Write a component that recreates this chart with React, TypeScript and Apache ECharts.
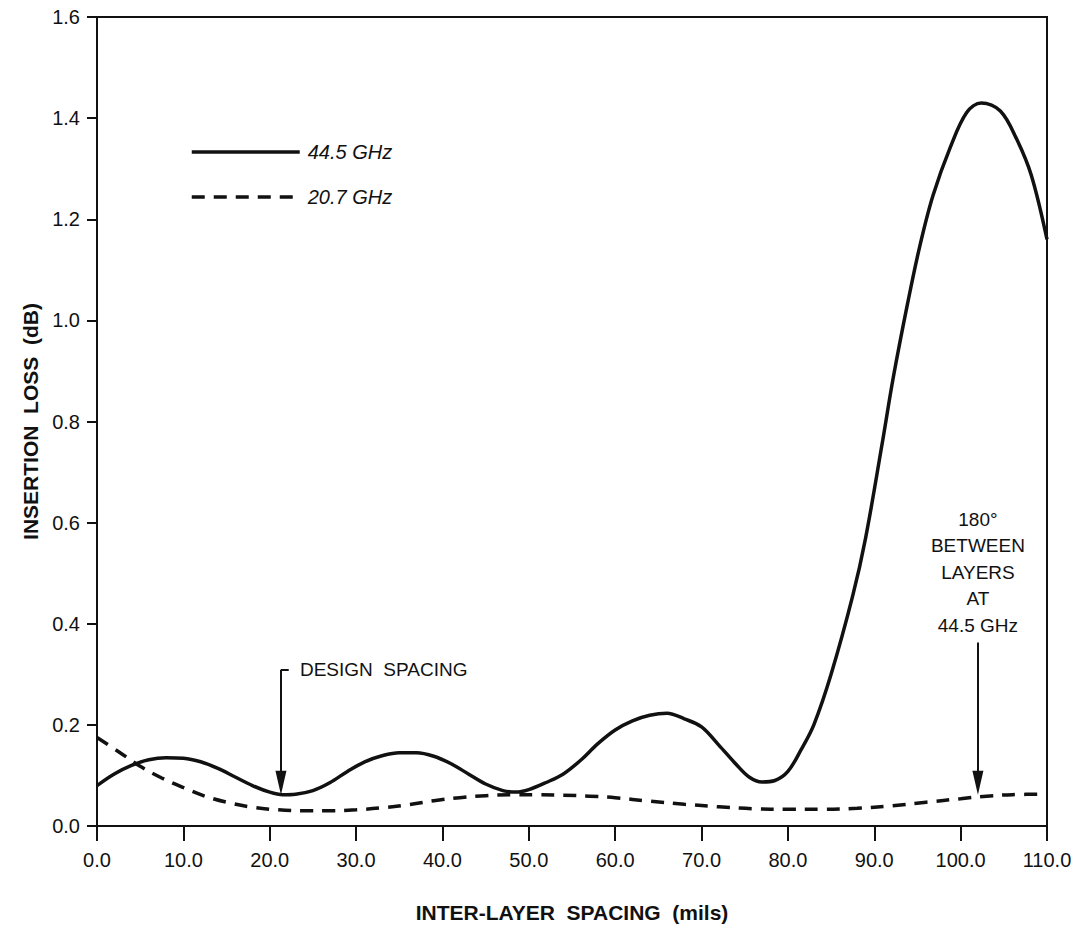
import React, { useEffect, useRef } from "react";
import * as echarts from "echarts";

// ---- data ----
const spacing44: number[] = [0, 2, 4, 6, 8, 10, 12, 14, 16, 18, 20, 21.5, 23, 25, 27, 29, 31, 33, 35, 37, 39, 41, 43, 45, 47, 48.5, 50, 52, 54, 56, 58, 60, 62, 64, 66, 68, 70, 72, 74, 75.5, 77, 78.5, 80, 81.5, 83, 85, 87.5, 89, 90.9, 92.2, 93.9, 95.3, 96.8, 98.8, 100.7, 102.4, 104.6, 106.5, 108.2, 110];
const loss44: number[] = [0.08, 0.103, 0.12, 0.131, 0.135, 0.134, 0.127, 0.114, 0.097, 0.08, 0.067, 0.062, 0.063, 0.07, 0.086, 0.108, 0.127, 0.139, 0.145, 0.145, 0.138, 0.123, 0.103, 0.083, 0.07, 0.067, 0.072, 0.086, 0.103, 0.13, 0.163, 0.19, 0.208, 0.219, 0.223, 0.212, 0.196, 0.16, 0.122, 0.097, 0.087, 0.09, 0.108, 0.15, 0.2, 0.3, 0.455, 0.57, 0.755, 0.887, 1.037, 1.149, 1.247, 1.342, 1.411, 1.43, 1.414, 1.358, 1.286, 1.16];

const spacing20: number[] = [0, 2.5, 5, 7.5, 10, 12.5, 15, 18, 21, 24, 27, 30, 33, 36, 39, 42, 45, 48, 51, 54, 57, 60, 64, 68, 72, 76, 80, 84, 88, 92, 96, 100, 103, 106, 110];
const loss20: number[] = [0.175, 0.147, 0.118, 0.095, 0.076, 0.059, 0.047, 0.037, 0.032, 0.03, 0.03, 0.032, 0.036, 0.042, 0.05, 0.056, 0.06, 0.062, 0.062, 0.061, 0.059, 0.056, 0.049, 0.043, 0.038, 0.034, 0.033, 0.033, 0.035, 0.04, 0.047, 0.054, 0.059, 0.062, 0.063];

const seriesNames: string[] = ["44.5 GHz", "20.7 GHz"];
const xTitle = "INTER-LAYER  SPACING  (mils)";
const yTitle = "INSERTION  LOSS  (dB)";

// annotations (data coordinates)
const designSpacingX = 21.3;
const designArrowTop = 0.309;
const designArrowTip = 0.062;
const designText = "DESIGN  SPACING";
const designTextAt: [number, number] = [23.5, 0.31];

const phaseX = 102.0;
const phaseArrowTop = 0.363;
const phaseArrowTip = 0.062;
const phaseText = "180°\nBETWEEN\nLAYERS\nAT\n44.5 GHz";
const phaseTextAt: [number, number] = [102.0, 0.502];

const FONT = "'Liberation Sans', Arial, Helvetica, sans-serif";
const BLACK = "#111";
const DASH = [13, 9];

export default function App() {
  const ref = useRef<HTMLDivElement>(null);

  useEffect(() => {
    if (!ref.current) return;
    const chart = echarts.init(ref.current, null, { renderer: "svg" });
    const yPerPx = 1.6 / (928 - 97 - 17);
    const headOffset = 12 * yPerPx;

    const option: any = {
      animation: false,
      backgroundColor: "#fff",
      grid: {
        left: 97,
        right: 31,
        top: 17,
        bottom: 97,
        show: true,
        borderColor: BLACK,
        borderWidth: 2,
        backgroundColor: "transparent",
      },
      legend: {
        data: [
          { name: seriesNames[0], lineStyle: { width: 3.5, type: "solid", color: BLACK } },
          { name: seriesNames[1], lineStyle: { width: 3.5, type: DASH, color: BLACK } },
        ],
        orient: "vertical",
        left: 185,
        top: 137,
        itemWidth: 108,
        itemHeight: 14,
        itemGap: 25,
        itemStyle: { opacity: 0 },
        textStyle: {
          fontFamily: FONT,
          fontStyle: "italic",
          fontSize: 20,
          color: BLACK,
          padding: [0, 0, 0, 3],
        },
      },
      xAxis: {
        type: "value",
        min: 0,
        max: 110,
        interval: 10,
        name: xTitle,
        nameLocation: "middle",
        nameGap: 76,
        nameTextStyle: { fontFamily: FONT, fontWeight: "bold", fontSize: 21, color: BLACK },
        axisLine: { show: true, lineStyle: { color: BLACK, width: 2 } },
        axisTick: { show: true, length: 15, lineStyle: { color: BLACK, width: 2 } },
        axisLabel: {
          margin: 24,
          fontFamily: FONT,
          fontSize: 20,
          color: BLACK,
          formatter: (v: number) => v.toFixed(1),
        },
        splitLine: { show: false },
      },
      yAxis: {
        type: "value",
        min: 0,
        max: 1.6,
        interval: 0.2,
        name: yTitle,
        nameLocation: "middle",
        nameRotate: 90,
        nameGap: 54,
        nameTextStyle: { fontFamily: FONT, fontWeight: "bold", fontSize: 21, color: BLACK },
        axisLine: { show: true, lineStyle: { color: BLACK, width: 2 } },
        axisTick: { show: true, length: 10, lineStyle: { color: BLACK, width: 2 } },
        axisLabel: {
          margin: 17,
          fontFamily: FONT,
          fontSize: 20,
          color: BLACK,
          formatter: (v: number) => v.toFixed(1),
        },
        splitLine: { show: false },
      },
      series: [
        {
          name: seriesNames[0],
          type: "line",
          data: spacing44.map((x, i) => [x, loss44[i]]),
          symbol: "none",
          smooth: 0.35,
          lineStyle: { color: BLACK, width: 3.5, type: "solid" },
          itemStyle: { color: BLACK },
          z: 3,
          markLine: {
            silent: true,
            animation: false,
            symbol: ["none", "none"],
            label: { show: false },
            lineStyle: { color: BLACK, width: 2, type: "solid" },
            data: [
              [
                { coord: [designSpacingX, designArrowTop], symbol: "none" },
                {
                  coord: [designSpacingX, designArrowTip + headOffset],
                  symbol: "triangle",
                  symbolSize: [11, 24],
                },
              ],
              [
                { coord: [designSpacingX, designArrowTop], symbol: "none" },
                { coord: [designSpacingX + 0.9, designArrowTop], symbol: "none" },
              ],
              [
                { coord: [phaseX, phaseArrowTop], symbol: "none" },
                {
                  coord: [phaseX, phaseArrowTip + headOffset],
                  symbol: "triangle",
                  symbolSize: [11, 24],
                },
              ],
            ],
          },
          markPoint: {
            silent: true,
            animation: false,
            data: [
              {
                coord: designTextAt,
                symbol: "rect",
                symbolSize: 0,
                label: {
                  show: true,
                  position: "right",
                  distance: 0,
                  formatter: designText,
                  fontFamily: FONT,
                  fontSize: 19,
                  color: BLACK,
                },
              },
              {
                coord: phaseTextAt,
                symbol: "rect",
                symbolSize: 0,
                label: {
                  show: true,
                  position: "inside",
                  align: "center",
                  verticalAlign: "middle",
                  lineHeight: 26.5,
                  formatter: phaseText,
                  fontFamily: FONT,
                  fontSize: 19,
                  color: BLACK,
                },
              },
            ],
          },
        },
        {
          name: seriesNames[1],
          type: "line",
          data: spacing20.map((x, i) => [x, loss20[i]]),
          symbol: "none",
          smooth: 0.35,
          lineStyle: { color: BLACK, width: 3.5, type: DASH },
          itemStyle: { color: BLACK },
          z: 2,
        },
      ],
    };

    chart.setOption(option);
    return () => chart.dispose();
  }, []);

  return (
    <div
      ref={ref}
      style={{ position: "absolute", left: 0, top: 0, width: 1078, height: 928, background: "#fff" }}
    />
  );
}
